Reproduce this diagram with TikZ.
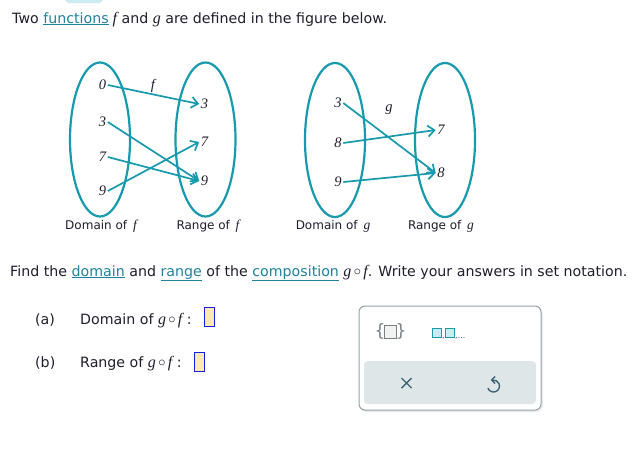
\documentclass[tikz,border=0pt]{standalone}
\usepackage{fontspec}
\setmainfont{DejaVu Sans}
\newfontfamily\tms{Liberation Serif}
\usetikzlibrary{arrows.meta,shapes.geometric}
\definecolor{mapc}{RGB}{24,154,174}
\definecolor{linkc}{RGB}{30,130,155}
\definecolor{txtc}{RGB}{30,30,45}
\definecolor{blobc}{RGB}{205,235,242}
\definecolor{ansfill}{RGB}{255,233,178}
\definecolor{ansdraw}{RGB}{20,30,230}
\definecolor{panelc}{RGB}{150,160,165}
\definecolor{barc}{RGB}{223,230,232}
\definecolor{iconc}{RGB}{60,100,115}
\definecolor{sqfill}{RGB}{200,236,242}
\newcommand{\mi}[1]{{\tms\itshape\fontsize{16}{16}\selectfont #1}}
\newcommand{\mc}[1]{{\tms\itshape\fontsize{13.5}{14}\selectfont #1}}
\newcommand{\lnk}[1]{\textcolor{linkc}{\underline{#1}}}
\newcommand{\gof}{\mi{g}\,\raisebox{0.5pt}{$\circ$}\,\mi{f}}
\begin{document}
\begin{tikzpicture}[x=1pt,y=-1pt,
  every node/.style={text=txtc},
  body/.style={anchor=base west, inner sep=0pt, font=\fontsize{14.2}{16}\selectfont},
  setell/.style={ellipse, draw=mapc, line width=2.2pt, minimum width=60, minimum height=154, inner sep=0pt},
  dig/.style={font=\tms\itshape\fontsize{14.5}{15}\selectfont, inner sep=1.5pt},
  fname/.style={font=\tms\itshape\fontsize{14.5}{15}\selectfont, inner sep=0pt},
  setcap/.style={font=\fontsize{12}{13}\selectfont, inner sep=0pt},
  arr/.style={draw=mapc, line width=1.7pt, -{Straight Barb[length=6.5pt,width=11pt]}},
  ansbox/.style={draw=ansdraw, fill=ansfill, line width=1pt, minimum width=10, minimum height=19, inner sep=0pt},
]
\useasboundingbox (0,0) rectangle (644,458);
\fill[white] (0,0) rectangle (644,458);
\fill[blobc, rounded corners=4pt] (65,-6) rectangle (103,3);

% first line
\node[body] (l1) at (12,23) {Two \lnk{functions}\hspace{4pt}\mi{f} and \mi{g} are defined in the figure below.};

% diagram f
\node[setell] (Df) at (100,139.5) {};
\node[setell] (Rf) at (205.5,139.5) {};
\node[dig] (a0) at (102.5,85) {0};
\node[dig] (a3) at (102.5,122) {3};
\node[dig] (a7) at (102.5,157) {7};
\node[dig] (a9) at (102.5,191) {9};
\node[dig] (b3) at (204.5,104) {3};
\node[dig] (b7) at (204.5,142) {7};
\node[dig] (b9) at (204.5,181) {9};
\node[fname] (fl) at (153,86) {f};
\draw[arr] (a0.east) -- (b3.west);
\draw[arr] (a3.east) -- (b9.west);
\draw[arr] (a7.east) -- (b9.west);
\draw[arr] (a9.east) -- (b7.west);
\node[setcap] (cDf) at (101,226) {Domain of \,\mc{f}};
\node[setcap] (cRf) at (208,226) {Range of \,\mc{f}};

% diagram g
\node[setell] (Dg) at (335,140) {};
\node[setell] (Rg) at (445,140) {};
\node[dig] (c3) at (338,103) {3};
\node[dig] (c8) at (338,143) {8};
\node[dig] (c9) at (338,182) {9};
\node[dig] (e7) at (441,130) {7};
\node[dig] (e8) at (441,173) {8};
\node[fname] (gl) at (389,110) {g};
\draw[arr] (c3.east) -- (e8.west);
\draw[arr] (c8.east) -- (e7.west);
\draw[arr] (c9.east) -- (e8.west);
\node[setcap] (cDg) at (333,226) {Domain of \,\mc{g}};
\node[setcap] (cRg) at (441,226) {Range of \,\mc{g}};

% second line
\node[body] (l2) at (10,276) {Find the \lnk{domain} and \lnk{range} of the \lnk{composition} \gof. Write your answers in set notation.};

% questions
\node[body] (qa) at (35,324) {(a)};
\node[body] (qat) at (80,324) {Domain of \gof\ :};
\node[ansbox] (ba) at (209.5,317) {};
\node[body] (qb) at (35,367) {(b)};
\node[body] (qbt) at (80,367) {Range of \gof\ :};
\node[ansbox] (bb) at (199.5,362) {};

% panel
\fill[black!8, rounded corners=7pt] (360,308) rectangle (543,412);
\fill[white, draw=panelc, line width=1pt, rounded corners=6pt] (359,306) rectangle (541,410);
\fill[barc, rounded corners=4pt] (364,361) rectangle (536,404);
% set icon
\draw[panelc!80!black, line width=1.3pt, fill=black!5] (384.5,325.5) rectangle (396.5,338.5);
\node[font=\fontsize{17}{18}\selectfont, text=panelc!80!black, inner sep=0pt] (lbr) at (380,331.5) {\{};
\node[font=\fontsize{17}{18}\selectfont, text=panelc!80!black, inner sep=0pt] (rbr) at (401,331.5) {\}};
% list icon
\draw[mapc, line width=1.2pt, fill=sqfill] (432.5,328.5) rectangle (441.5,337.5);
\draw[mapc, line width=1.2pt, fill=sqfill] (445.5,328.5) rectangle (454.5,337.5);
\node[font=\fontsize{8}{9}\selectfont, text=iconc, inner sep=0pt, anchor=base west] (cm1) at (442,338.5) {,};
\node[font=\fontsize{8}{9}\selectfont, text=iconc, inner sep=0pt, anchor=base west] (cm2) at (455,338.5) {,...};
% clear icon
\draw[iconc, line width=1.4pt] (401.5,378) -- (411.5,388) (411.5,378) -- (401.5,388);
% undo icon
\begin{scope}[shift={(493.5,386)}, y=1pt]
\draw[iconc, line width=1.4pt] (200:6) arc[start angle=200, end angle=460, radius=6];
\draw[iconc, line width=1.4pt, line join=round] (1.5,9.5) -- (-1.8,6) -- (1.5,2.5);
\end{scope}
\end{tikzpicture}
\end{document}
